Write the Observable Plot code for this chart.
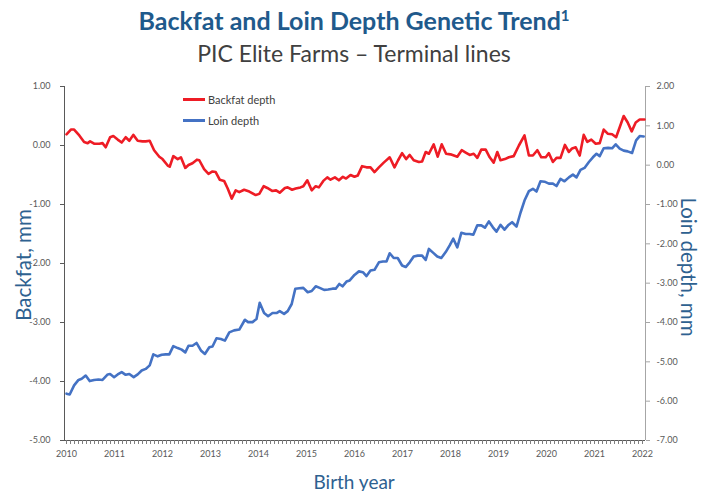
<!DOCTYPE html>
<html>
<head>
<meta charset="utf-8">
<script src="https://cdn.jsdelivr.net/npm/d3@7"></script>
<script src="https://cdn.jsdelivr.net/npm/@observablehq/plot@0.6"></script>
<style>
  html, body { margin: 0; padding: 0; background: #ffffff; }
  #wrap { position: relative; width: 708px; height: 491px; font-family: Lato, "Open Sans", sans-serif; overflow: hidden; }
  #title { position: absolute; left: 0; width: 708px; top: 5px; text-align: center; font-weight: 700; font-size: 25px; color: #1F5A8C; }
  #title sup { font-size: 15px; vertical-align: 9px; line-height: 0; }
  #subtitle { position: absolute; left: 0; width: 708px; top: 39px; text-align: center; font-size: 23px; color: #404040; }
  #chart { position: absolute; left: 0; top: 70px; }
  .axtitle { position: absolute; font-size: 19px; color: #2E6190; white-space: nowrap; }
  #ytl, #ytr { font-size: 20.5px; }
  #legend { position: absolute; left: 183px; top: 89px; font-size: 11px; color: #404040; }
  #legend div { height: 21px; display: flex; align-items: center; }
  #legend span.sw { display: inline-block; width: 22px; height: 2.5px; margin-right: 3px; }
</style>
</head>
<body>
<div id="wrap">
  <div id="title">Backfat and Loin Depth Genetic Trend<sup>1</sup></div>
  <div id="subtitle">PIC Elite Farms – Terminal lines</div>
  <div id="chart"></div>
  <div id="legend"></div>
  <div class="axtitle" id="ytl">Backfat, mm</div>
  <div class="axtitle" id="ytr">Loin depth, mm</div>
  <div class="axtitle" id="xt">Birth year</div>
</div>
<script>
// ---- Data ----
// months since January 2010
const bfMonth = [0,1.1,1.9,3.2,4.4,5.3,5.9,6.9,8.2,9.0,9.8,10.9,11.7,12.8,13.8,14.8,15.7,16.7,17.8,19.0,19.8,20.8,21.9,23.2,24.0,25.3,25.8,26.7,27.8,28.6,29.7,30.5,31.5,32.6,33.2,34.4,35.5,36.5,37.3,38.3,39.4,40.3,41.3,42.3,43.2,44.4,45.7,47.3,48.2,49.3,50.2,51.4,52.4,53.3,54.6,55.3,56.4,57.3,58.5,59.2,60.2,61.3,62.3,63.1,64.2,65.2,66.0,67.1,68.1,69.1,69.9,71.0,72.0,72.8,73.9,75.0,76.0,77.0,78.1,79.3,80.8,82.0,82.9,83.9,84.9,85.8,86.8,88.1,88.9,89.8,90.6,91.8,92.8,93.8,94.9,96.0,97.7,98.8,99.8,100.8,101.8,102.7,103.7,104.8,105.8,106.8,107.7,108.5,109.6,110.6,111.8,113.1,114.5,115.6,116.6,117.7,118.7,119.8,120.6,121.6,122.5,123.5,124.6,125.6,126.4,127.3,128.3,129.3,130.2,131.2,132.3,133.3,134.3,135.3,136.4,137.4,138.3,139.3,140.3,141.3,142.3,143.3,144.5];
// Backfat depth genetic trend, mm (left axis)
const bfValue = [0.19,0.27,0.27,0.17,0.06,0.04,0.07,0.03,0.03,0.04,-0.03,0.14,0.16,0.10,0.05,0.14,0.08,0.18,0.08,0.07,0.07,0.08,-0.08,-0.19,-0.23,-0.34,-0.36,-0.18,-0.23,-0.20,-0.38,-0.33,-0.30,-0.24,-0.25,-0.40,-0.48,-0.44,-0.45,-0.58,-0.60,-0.73,-0.90,-0.76,-0.79,-0.75,-0.78,-0.84,-0.82,-0.69,-0.72,-0.77,-0.76,-0.80,-0.72,-0.71,-0.75,-0.73,-0.71,-0.69,-0.59,-0.76,-0.69,-0.71,-0.60,-0.54,-0.58,-0.54,-0.59,-0.53,-0.56,-0.50,-0.53,-0.51,-0.35,-0.37,-0.37,-0.45,-0.37,-0.29,-0.20,-0.37,-0.25,-0.13,-0.23,-0.16,-0.25,-0.28,-0.27,-0.11,-0.14,0.02,-0.19,0.02,-0.14,-0.15,-0.19,-0.08,-0.12,-0.16,-0.14,-0.21,-0.07,-0.07,-0.20,-0.29,-0.11,-0.25,-0.23,-0.20,-0.18,0.00,0.17,-0.17,-0.17,-0.08,-0.20,-0.20,-0.13,-0.28,-0.21,-0.21,0.01,-0.11,-0.05,-0.03,-0.17,0.18,0.06,0.10,0.03,0.04,0.27,0.20,0.19,0.14,0.31,0.50,0.39,0.24,0.39,0.44,0.44];

const ldMonth = [0,0.8,1.9,3.0,3.8,4.8,5.8,6.9,8.0,9.0,10.3,10.9,11.9,12.8,13.8,14.8,15.7,16.8,17.8,18.8,19.8,20.8,21.7,22.8,23.8,24.8,25.7,26.7,27.8,28.8,29.7,30.5,31.5,32.5,33.6,34.6,35.7,36.5,37.5,38.6,39.6,40.7,41.9,43.2,44.6,45.4,46.5,47.5,48.3,49.4,50.4,51.5,52.5,53.3,54.4,55.3,56.3,57.2,58.2,59.2,60.3,61.3,62.3,63.3,64.4,65.4,66.5,67.3,68.2,69.0,70.0,70.8,72.0,73.1,74.1,75.0,76.0,77.0,78.1,79.1,80.0,80.8,81.8,82.8,83.9,84.8,85.8,86.8,87.8,88.9,89.8,90.6,91.7,92.7,93.7,94.8,95.8,96.7,97.7,98.7,99.8,100.8,101.7,102.7,103.7,104.6,105.6,106.6,107.5,108.5,109.5,110.4,111.4,112.5,113.5,114.5,115.6,116.6,117.5,118.5,119.5,120.6,121.6,122.5,123.5,124.5,125.6,126.6,127.5,128.5,129.5,130.6,131.6,132.5,133.3,134.3,135.4,136.4,137.3,138.3,139.3,140.3,141.4,142.4,143.3,144.3];
// Loin depth genetic trend, mm (right axis)
const ldValue = [-5.81,-5.83,-5.60,-5.46,-5.43,-5.35,-5.49,-5.46,-5.45,-5.46,-5.32,-5.31,-5.39,-5.32,-5.26,-5.33,-5.31,-5.39,-5.32,-5.22,-5.18,-5.09,-4.81,-4.86,-4.82,-4.81,-4.81,-4.60,-4.65,-4.69,-4.76,-4.59,-4.59,-4.52,-4.71,-4.80,-4.63,-4.61,-4.40,-4.42,-4.46,-4.25,-4.20,-4.18,-3.93,-3.99,-3.99,-3.91,-3.50,-3.76,-3.84,-3.76,-3.76,-3.71,-3.78,-3.71,-3.53,-3.14,-3.13,-3.12,-3.23,-3.20,-3.08,-3.12,-3.17,-3.16,-3.14,-3.14,-3.02,-3.08,-2.96,-2.93,-2.79,-2.70,-2.72,-2.82,-2.68,-2.66,-2.47,-2.45,-2.45,-2.24,-2.36,-2.36,-2.55,-2.59,-2.47,-2.32,-2.30,-2.30,-2.41,-2.13,-2.23,-2.32,-2.36,-2.21,-2.04,-1.87,-2.09,-1.72,-1.75,-1.75,-1.77,-1.53,-1.53,-1.59,-1.43,-1.58,-1.69,-1.52,-1.64,-1.53,-1.45,-1.56,-1.21,-0.90,-0.66,-0.60,-0.67,-0.41,-0.42,-0.47,-0.47,-0.53,-0.35,-0.41,-0.31,-0.24,-0.31,-0.12,-0.07,0.08,0.20,0.29,0.23,0.43,0.44,0.43,0.53,0.42,0.37,0.35,0.31,0.63,0.74,0.73];

const yearLabels = [2010,2011,2012,2013,2014,2015,2016,2017,2018,2019,2020,2021,2022];
const leftTicks = [1,0,-1,-2,-3,-4,-5];
const rightTicks = [2,1,0,-1,-2,-3,-4,-5,-6,-7];
const seriesNames = ["Backfat depth", "Loin depth"];
const seriesColors = ["#EE1C25", "#4472C4"];

// ---- Scales ----
const leftDomain = [-5, 1];
const rightDomain = [-7, 2];
const xDomain = [-0.5, 144.75];
const toLeft = v => leftDomain[0] + (v - rightDomain[0]) * (leftDomain[1] - leftDomain[0]) / (rightDomain[1] - rightDomain[0]);
const fromLeft = L => { const v = rightDomain[0] + (L - leftDomain[0]) * (rightDomain[1] - rightDomain[0]) / (leftDomain[1] - leftDomain[0]); return Math.abs(v) < 1e-9 ? 0 : v; };
const fmt = v => (Math.abs(v) < 1e-9 ? 0 : v).toFixed(2);

const bf = bfMonth.map((m, i) => ({m, v: bfValue[i]}));
const ld = ldMonth.map((m, i) => ({m, v: toLeft(ldValue[i])}));
const monthTicks = d3.range(0, 12 * (yearLabels.length - 1) + 1);
const yearTicks = yearLabels.map((y, i) => i * 12);

const chart = Plot.plot({
  width: 708,
  height: 421,
  marginLeft: 64,
  marginRight: 63,
  marginTop: 16,
  marginBottom: 51,
  x: {domain: xDomain},
  y: {domain: leftDomain},
  style: {fontFamily: "Lato, 'Open Sans', sans-serif", fontSize: "9px", color: "#595959", background: "transparent"},
  marks: [
    Plot.ruleX([xDomain[0]], {stroke: "#595959", strokeWidth: 1}),
    Plot.ruleX([xDomain[1]], {stroke: "#A6A6A6", strokeWidth: 1}),
    Plot.ruleY([leftDomain[0]], {stroke: "#595959", strokeWidth: 1}),
    Plot.axisY({anchor: "left", ticks: leftTicks, tickFormat: fmt, tickSize: 4, tickPadding: 10, label: null, stroke: "#595959"}),
    Plot.axisY({anchor: "right", ticks: rightTicks.map(toLeft), tickFormat: d => fmt(fromLeft(d)), tickSize: 4, tickPadding: 7, label: null, stroke: "#A6A6A6"}),
    Plot.axisX({anchor: "bottom", ticks: monthTicks, tickFormat: () => "", tickSize: 4, label: null, stroke: "#7F7F7F"}),
    Plot.axisX({anchor: "bottom", ticks: yearTicks, tickFormat: d => String(yearLabels[Math.round(d / 12)]), tickSize: 0, tickPadding: 10, label: null}),
    Plot.line(ld, {x: "m", y: "v", stroke: seriesColors[1], strokeWidth: 2.6, strokeLinejoin: "round"}),
    Plot.line(bf, {x: "m", y: "v", stroke: seriesColors[0], strokeWidth: 2.6, strokeLinejoin: "round"})
  ]
});
document.getElementById("chart").appendChild(chart);

// Legend
const legend = document.getElementById("legend");
seriesNames.forEach((name, i) => {
  const row = document.createElement("div");
  const sw = document.createElement("span");
  sw.className = "sw";
  sw.style.background = seriesColors[i];
  row.appendChild(sw);
  row.appendChild(document.createTextNode(name));
  legend.appendChild(row);
});

// Axis titles placement
function place(id, cx, cy, rot) {
  const el = document.getElementById(id);
  const w = el.offsetWidth, h = el.offsetHeight;
  el.style.left = (cx - w / 2) + "px";
  el.style.top = (cy - h / 2) + "px";
  if (rot) el.style.transform = "rotate(" + rot + "deg)";
}
place("ytl", 23, 265, -90);
place("ytr", 688, 267, 90);
place("xt", 354, 481, 0);
</script>
</body>
</html>
